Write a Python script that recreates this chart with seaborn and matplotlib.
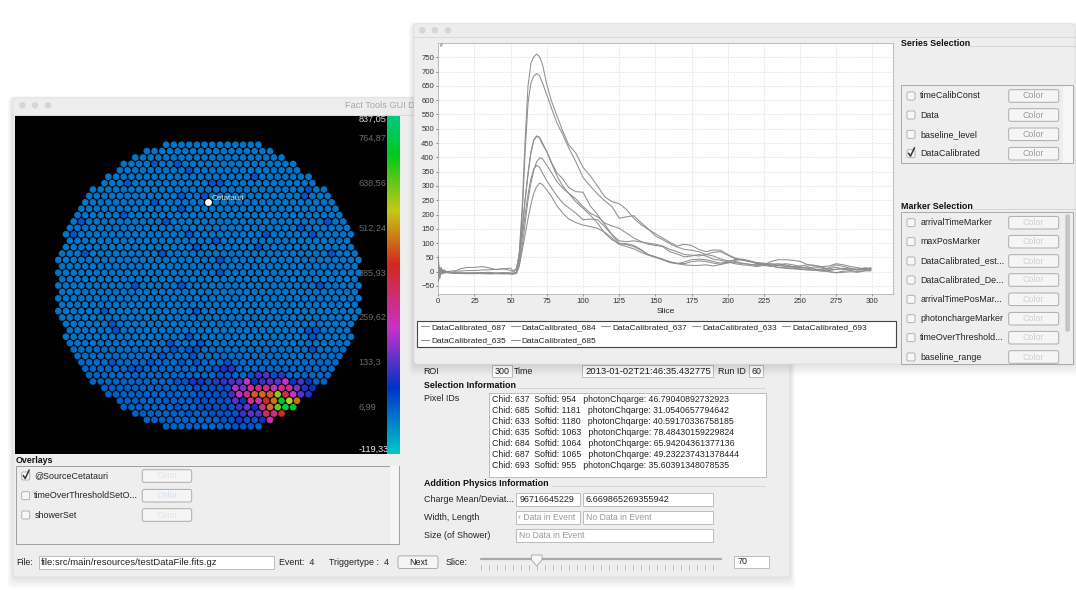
import numpy as np
import pandas as pd
import matplotlib
matplotlib.use("Agg")
import matplotlib.pyplot as plt
from matplotlib.patches import FancyBboxPatch, Rectangle, Circle
from matplotlib.colors import LinearSegmentedColormap
from matplotlib.lines import Line2D
import seaborn as sns

# ---------- chart data ----------
slices = [0,1,2,3,4,6,10,15,20,25,30,35,40,45,50,52,54,56,58,60,62,64,66,68,70,72,75,78,82,86,90,95,100,105,110,115,120,125,130,135,140,145,150,155,160,165,170,175,180,185,190,195,200,205,210,215,220,225,230,235,240,245,250,255,260,265,270,275,280,285,290,295,299]
px635 = [30,-10,12,-4,6,-2,-4,-5,-5,-6,-5,-6,-5,-6,-6,-6,-2,70,230,460,650,730,752,761,752,725,655,600,545,492,445,415,365,335,300,262,245,238,218,187,165,148,133,118,103,90,96,92,78,70,76,75,60,48,42,38,32,30,24,22,20,17,14,13,17,12,6,9,12,9,8,11,12]
px684 = [-35,15,-6,8,-3,-1,-3,-4,-5,-4,-4,-5,-6,-5,-7,-7,-3,55,200,420,590,660,685,693,685,660,618,575,520,480,435,385,330,300,272,248,228,187,192,196,172,150,125,112,98,86,78,75,70,60,68,70,58,46,40,36,30,28,26,28,24,18,20,24,22,16,10,16,8,10,5,8,14]
px687 = [55,-20,8,-6,4,0,3,2,4,4,6,7,8,10,4,-2,8,60,150,255,345,420,462,475,470,450,420,385,345,325,295,280,278,230,200,165,130,108,105,108,104,100,96,90,78,70,60,58,55,60,55,45,38,40,42,36,28,24,28,22,18,16,12,18,10,6,14,24,18,12,8,10,9]
px637 = [5,-15,15,-5,3,-2,-2,10,15,15,18,14,7,10,12,3,12,60,145,250,340,415,460,474,468,445,420,382,335,300,275,245,222,198,170,135,112,98,95,88,75,60,52,44,35,30,28,35,38,36,30,26,30,36,30,26,22,24,36,42,42,40,36,25,22,18,20,28,24,18,14,8,5]
px633 = [-15,10,-4,5,-2,-2,-3,-6,-4,-5,-3,-2,-5,-3,-4,-6,-6,25,90,170,250,310,355,385,398,395,372,348,315,292,275,255,228,205,192,170,160,152,135,118,106,96,92,88,70,62,52,55,60,55,44,40,34,32,28,26,24,26,20,16,12,10,8,6,5,2,4,8,10,6,9,14,10]
px693 = [20,-25,5,-8,1,-3,-5,-6,-7,-7,-6,-8,-7,-6,-8,-8,-3,40,120,200,270,325,360,372,365,345,318,295,265,240,224,205,182,184,182,158,128,100,98,92,78,60,52,42,32,28,34,42,44,42,36,30,34,42,44,38,30,25,20,14,14,12,10,8,6,3,0,-4,-2,0,-2,3,3]
px685 = [-5,5,-8,2,-5,-3,-5,-5,-6,-5,-7,-5,-6,-8,-6,-8,-6,20,75,130,185,235,275,298,310,305,285,265,230,205,185,172,163,158,152,138,118,95,88,80,68,58,50,42,34,28,24,22,22,24,20,25,34,28,24,22,18,22,18,24,28,24,18,12,8,6,0,-3,2,4,0,4,7]
series_names = ["DataCalibrated_687","DataCalibrated_635","DataCalibrated_684","DataCalibrated_685",
                "DataCalibrated_637","DataCalibrated_633","DataCalibrated_693"]
series_values = [px687, px635, px684, px685, px637, px633, px693]
x_ticks = [0,25,50,75,100,125,150,175,200,225,250,275,300]
y_ticks = [-50,0,50,100,150,200,250,300,350,400,450,500,550,600,650,700,750]

# ---------- camera data: extent of each row, and the pixels that stand out ----------
row_first = [28,23,20,17,16,13,12,9,8,7,6,5,4,3,2,3,2,1,0,1,0,1,0,1,0,1,0,1,2,3,2,3,4,5,6,7,8,9,12,13,16,17,20,23,28]
row_last  = [52,55,58,61,62,65,66,69,70,71,72,73,74,75,76,75,76,77,78,77,78,77,78,77,78,77,78,77,76,75,76,75,74,73,72,71,70,69,66,65,62,61,58,55,52]
row_level = [-12]*31 + [-8,-6,-4,-2,2,2,4,10,10,10,10,10,10,10]
dim_value = 30
dim_pixels = {3:[31,25],4:[34],5:[51],6:[40,42,18],7:[65],8:[32,38,64],9:[25],10:[32],11:[17],12:[6,28,70],13:[63],
              14:[4,34,54,66],15:[41],16:[36,52],17:[7,71,27],18:[42],20:[42],22:[20,32,68],26:[12,36],28:[14],
              29:[15,65,67],30:[34,66],31:[29,37],32:[30,34,36,66],33:[27,35],34:[14,24,32,36,44],35:[19,21,41],
              36:[42,44,50,56],37:[31,33,39],38:[36,38,40,42,44],39:[37,39,41,43],40:[28,36,38,40,42,44],
              41:[31,37,39,41,43,45],42:[34,40,42,44,46],43:[43,45,49,51],44:[46,48,50]}
hot_pixels = {35:{43:90,45:100},
              36:{52:110,54:135,58:110},
              37:{35:90,37:85,41:105,43:110,45:130,47:135,49:235,51:70,53:110,55:135,57:140,59:235,61:60,63:125,65:70},
              38:{46:215,48:170,50:290,52:300,54:310,56:255,58:300,60:290,62:165,64:90,66:65},
              39:{45:120,47:225,49:320,51:470,53:480,55:470,57:610,59:370,61:235,63:140,65:100},
              40:{46:145,48:60,50:300,52:265,54:410,56:480,58:740,60:570,62:480},
              41:{47:120,49:150,51:75,53:310,55:480,57:650,59:770,61:730},
              42:{48:115,50:140,52:140,54:340,56:310,58:415},
              43:{47:90,53:75,55:260}}
scale_labels = ["837,05","764,87","638,56","512,24","385,93","259,62","133,3","6,99","-119,33"]
scale_min, scale_max = -119.33, 837.05

pixel_lines = ["Chid: 637  Softid: 954   photonChqarge: 46.79040892732923",
               "Chid: 685  Softid: 1181   photonChqarge: 31.0540657794642",
               "Chid: 633  Softid: 1180   photonChqarge: 40.59170336758185",
               "Chid: 635  Softid: 1063   photonChqarge: 78.48430159229824",
               "Chid: 684  Softid: 1064   photonChqarge: 65.94204361377136",
               "Chid: 687  Softid: 1065   photonChqarge: 49.232237431378444",
               "Chid: 693  Softid: 955   photonChqarge: 35.60391348078535"]
series_rows = ["timeCalibConst","Data","baseline_level","DataCalibrated"]
marker_rows = ["arrivalTimeMarker","maxPosMarker","DataCalibrated_est...","DataCalibrated_De...",
               "arrivalTimePosMar...","photonchargeMarker","timeOverThreshold...","baseline_range"]
overlay_rows = ["@SourceCetatauri","timeOverThresholdSetO...","showerSet"]

# ---------- setup ----------
W, H = 1076, 590
sns.set_theme(style="white")
plt.rcParams["font.family"] = ["Liberation Sans", "DejaVu Sans"]
fig = plt.figure(figsize=(W/100, H/100), dpi=100, facecolor="white")

def axes_px(l, t, r, b, z):
    return fig.add_axes([l/W, 1-b/H, (r-l)/W, (b-t)/H], zorder=z)

def overlay(z):
    a = axes_px(0, 0, W, H, z)
    a.set_xlim(0, W); a.set_ylim(H, 0); a.axis("off")
    a.patch.set_alpha(0)
    return a

def rect(a, l, t, r, b, fc="#eeeeee", ec="none", lw=0.6, round_=0, alpha=1, z=1):
    if round_:
        p = FancyBboxPatch((l+round_, t+round_), r-l-2*round_, b-t-2*round_,
                           boxstyle=f"round,pad={round_},rounding_size={round_}",
                           fc=fc, ec=ec, lw=lw, alpha=alpha, zorder=z, mutation_aspect=1)
    else:
        p = Rectangle((l, t), r-l, b-t, fc=fc, ec=ec, lw=lw, alpha=alpha, zorder=z)
    a.add_patch(p)

def label(a, x, y, s, size=6.4, color="#222222", weight="normal", ha="left", z=5, **kw):
    a.text(x, y, s, fontsize=size, color=color, fontweight=weight, ha=ha, va="center", zorder=z, **kw)

def window(a, l, t, r, b, bar):
    for i in range(9, 0, -1):
        rect(a, l-i*0.6, t-i*0.2, r+i*0.6, b+i*1.3, fc="black", round_=5, alpha=0.012, z=0.5)
    rect(a, l, t, r, b, fc="#eeeeee", ec="#dedede", lw=0.5, round_=4, z=1)
    rect(a, l+0.5, t+0.5, r-0.5, bar, fc="#ededed", round_=3, z=1.1)
    a.plot([l, r], [bar, bar], color="#d6d6d6", lw=0.6, zorder=1.2)

def dots(a, xs, y):
    for x in xs:
        a.add_patch(Circle((x, y), 3.3, fc="#d6d6d6", ec="none", zorder=2))

def checkbox(a, cx, cy, checked=False):
    rect(a, cx-4, cy-4, cx+4, cy+4, fc="#f7f7f7", ec="#a8a8a8", lw=0.6, round_=1.5, z=3)
    if checked:
        a.plot([cx-2.5, cx-0.5, cx+3.5], [cy-0.5, cy+2.5, cy-6], color="#333333", lw=1.1, zorder=4)

def button(a, l, r, cy, text="Color", color="#9a9a9a", h=6.3):
    rect(a, l, cy-h, r, cy+h, fc="#f5f5f5", ec="#ababab", lw=0.7, round_=2, z=3)
    label(a, (l+r)/2, cy, text, color=color, ha="center")

def field(a, l, t, r, b, text="", color="#222222", tx=None, size=6.4):
    rect(a, l, t, r, b, fc="white", ec="#bdbdbd", lw=0.7, z=2)
    if text:
        label(a, (l+3) if tx is None else tx, (t+b)/2, text, color=color, size=size)

def section(a, x, y, title, line_from, line_to):
    label(a, x, y, title, weight="bold", color="#111111")
    a.plot([line_from, line_to], [y+2.6, y+2.6], color="#d5d5d5", lw=0.7, zorder=3)

# ---------- left window (behind) ----------
back = overlay(0)
window(back, 13, 98, 790, 577, 115)
dots(back, [22.3, 35, 48], 105.3)
label(back, 345, 105.3, "Fact Tools GUI De", color="#a8a8a8", size=6.6)
label(back, 15.7, 460.3, "Overlays", weight="bold", color="#111111")
rect(back, 15.7, 465.7, 399.3, 544.3, fc="#eeeeee", ec="#9f9f9f", lw=0.7, z=2)
rect(back, 390, 466.2, 399, 544, fc="#f5f5f5", z=2.1)
for cy, name, col, chk in zip([476, 495.7, 515], overlay_rows, ["#e4e4e4", "#cfe2f6", "#e4e4e4"], [True, False, False]):
    checkbox(back, 25.7, cy, chk)
    label(back, 34.3, cy, name)
    button(back, 142.3, 191.7, cy, color=col)
label(back, 16.7, 562.3, "File:")
field(back, 38.7, 555.7, 274, 568.7, "file:src/main/resources/testDataFile.fits.gz", tx=41, size=6.8)
label(back, 279.3, 562.3, "Event:  4")
label(back, 329, 562.3, "Triggertype :  4")
button(back, 398, 438, 562.2, "Next", color="#222222")
label(back, 445.7, 562.3, "Slice:")
back.plot([481, 720.7], [559.3, 559.3], color="#a9a9a9", lw=1.6, solid_capstyle="round", zorder=3)
for tx in np.arange(481, 720, 8):
    back.plot([tx, tx], [565, 570], color="#aaaaaa", lw=0.5, zorder=3)
back.add_patch(plt.Polygon([[531.5, 555], [542, 555], [542, 560], [536.7, 566], [531.5, 560]],
                           fc="#f7f7f7", ec="#a5a5a5", lw=0.6, zorder=4))
field(back, 734.3, 555.7, 769.3, 568.3, "70", tx=737.7)

label(back, 423.7, 371, "ROI")
field(back, 492.3, 365, 511.7, 377, "300", tx=494.3)
label(back, 514.3, 371, "Time")
field(back, 582.3, 365, 713.3, 377, "2013-01-02T21:46:35.432775", tx=585, size=6.8)
label(back, 717.7, 371, "Run ID")
field(back, 749.3, 365, 763.3, 377, "60", tx=751)
section(back, 424, 385.7, "Selection Information", 516.7, 765)
label(back, 423.7, 398.3, "Pixel IDs")
field(back, 489, 393.3, 766, 476.7)
for yy, line in zip([400, 410.7, 421.7, 432.3, 443.3, 454.3, 465], pixel_lines):
    label(back, 492, yy, line, size=6.3)
section(back, 424, 483, "Addition Physics Information", 551.7, 765)
label(back, 423.7, 500, "Charge Mean/Deviat...")
field(back, 516.3, 492.7, 579.7, 506, "96716645229", tx=519.7)
field(back, 583.3, 492.7, 713.3, 506, "6.669865269355942", tx=585.7, size=6.6)
label(back, 423.7, 517.7, "Width, Length")
field(back, 516.3, 510.7, 579.7, 523.7, "\u2039 Data in Event", color="#999999", tx=518, size=6.2)
field(back, 583.3, 510.7, 713.3, 523.7, "No Data in Event", color="#999999", tx=585.7, size=6.2)
label(back, 423.7, 535.3, "Size (of Shower)")
field(back, 516.3, 528.7, 713.3, 541.7, "No Data in Event", color="#999999", tx=519, size=6.2)

# ---------- camera ----------
rows, cols, vals = [], [], []
for r, (a0, a1) in enumerate(zip(row_first, row_last)):
    for k in range(a0, a1+1, 2):
        v = row_level[r]
        if k in dim_pixels.get(r, []):
            v = dim_value
        v = hot_pixels.get(r, {}).get(k, v)
        rows.append(r); cols.append(k); vals.append(v)
camera = pd.DataFrame({"row": rows, "col": cols, "value": vals})

stops = [0, .195, .372, .559, .717, .884, 1]
cols_rgb = ["#00c8c8", "#0032c8", "#c832c8", "#d2281e", "#c8c814", "#00c81e", "#00c882"]
cmap = LinearSegmentedColormap.from_list("fact", list(zip(stops, cols_rgb)))

L, T, R, B = 15, 115.7, 387, 454
cam = axes_px(L, T, R, B, 1)
cam.set_facecolor("black")
sns.scatterplot(data=camera, x="col", y="row", hue="value", hue_norm=(scale_min, scale_max),
                palette=cmap, s=23, linewidth=0, legend=False, ax=cam)
cam.set_xlim((L-58.3)/3.85, (R-58.3)/3.85)
cam.set_ylim((B-144.7)/6.4, (T-144.7)/6.4)
cam.set_xticks([]); cam.set_yticks([]); cam.set_xlabel(""); cam.set_ylabel("")
for sp in cam.spines.values():
    sp.set_visible(False)
src_x, src_y = (207.7-58.3)/3.85, (201.7-144.7)/6.4
cam.scatter([src_x], [src_y], s=24, c="white", marker="o", linewidths=0, zorder=5)
cam.text((211.7-58.3)/3.85, (198.5-144.7)/6.4, "Cetatauri", color="#d8d8d8", fontsize=5.8, va="center", zorder=5)
scale_y = [119, 138, 183, 228, 273, 317.7, 362, 407, 449]
scale_col = ["#dddddd"] + ["#6a6a6a"]*7 + ["#eeeeee"]
for yy, s, c in zip(scale_y, scale_labels, scale_col):
    cam.text((358.7-58.3)/3.85, (yy-144.7)/6.4, s, color=c, fontsize=6.6, va="center", zorder=6)

cb = axes_px(387, T, 400, B, 1)
cb.imshow(np.linspace(1, 0, 256).reshape(-1, 1), cmap=cmap, aspect="auto", vmin=0, vmax=1)
cb.axis("off")

# ---------- top window ----------
front = overlay(2)
window(front, 414, 24, 1075, 364, 37)
dots(front, [422.3, 435, 448], 30.3)
section(front, 901, 43, "Series Selection", 969, 1075)
rect(front, 901, 85, 1073.3, 163.3, fc="#eeeeee", ec="#a8a8a8", lw=0.7, z=2)
rect(front, 1063, 85.5, 1073, 163, fc="#f6f6f6", z=2.1)
for cy, name, chk in zip([96, 115, 134.3, 153.7], series_rows, [False, False, False, True]):
    checkbox(front, 911, cy, chk)
    label(front, 920.3, cy, name)
    button(front, 1008.7, 1058.7, cy, color="#9a9a9a")
section(front, 901, 206.7, "Marker Selection", 972, 1075)
rect(front, 901, 211.7, 1073.3, 364, fc="#eeeeee", ec="#a8a8a8", lw=0.7, z=2)
rect(front, 1065.3, 214.3, 1070, 331.7, fc="#c4c4c4", round_=2, z=2.2)
for cy, name in zip([222.7, 241.7, 261, 280, 299.3, 318.7, 337.7, 357], marker_rows):
    checkbox(front, 911, cy)
    label(front, 920.3, cy, name)
    button(front, 1008.7, 1058.7, cy, color="#d0d0d0")
rect(front, 417.3, 320.7, 896.3, 346.7, fc="white", ec="#444444", lw=0.8, z=2)

# ---------- waveform chart ----------
long = pd.DataFrame([{"Slice": s, "value": v, "series": name}
                     for name, vs in zip(series_names, series_values)
                     for s, v in zip(slices, vs)])
ax = axes_px(438.3, 43.3, 892.7, 294, 3)
ax.set_facecolor("white")
gray = {n: c for n, c in zip(series_names, ["#8f8f8f"]*len(series_names))}
sns.lineplot(data=long, x="Slice", y="value", hue="series", palette=gray, hue_order=series_names,
             linewidth=0.75, legend=False, ax=ax, zorder=3)
ax.set_xlim(0, 314)
ax.set_ylim(-78, 799)
ax.set_xticks(x_ticks)
ax.set_yticks(y_ticks)
ax.grid(True, color="#e2e2e2", lw=0.6, ls=(0, (2, 1.5)))
ax.set_axisbelow(True)
ax.tick_params(axis="both", labelsize=5.6, length=1.5, width=0.4, pad=1.5, colors="#333333",
               left=True, bottom=True)
ax.set_xlabel("Slice", fontsize=6, color="#222222", labelpad=2)
ax.set_ylabel("")
for sp in ax.spines.values():
    sp.set_color("#bcbcbc"); sp.set_linewidth(0.7)
ax.text(1, 790, "#", fontsize=3.5, color="#555555", va="center")

handles = [Line2D([], [], color="#8f8f8f", lw=0.75) for _ in series_names]
fig.legend(handles, series_names, ncol=5, frameon=False, fontsize=6,
           loc="upper left", bbox_to_anchor=(417.3/W, 1-320/H), bbox_transform=fig.transFigure,
           borderaxespad=0, borderpad=0.4, handlelength=1.03, handletextpad=0.24,
           columnspacing=0.6, labelspacing=0.67, labelcolor="#222222").set_zorder(10)

fig.savefig("out.png", dpi=100, facecolor="white")
